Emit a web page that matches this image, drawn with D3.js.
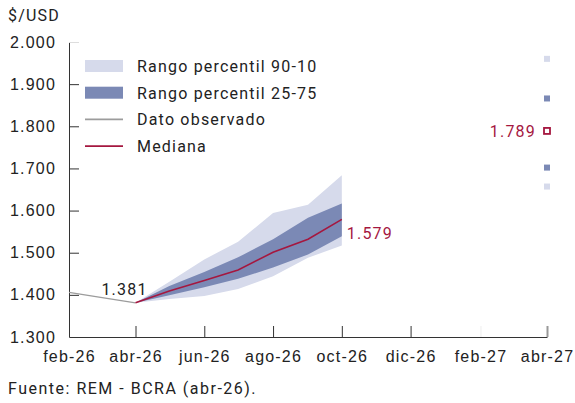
<!DOCTYPE html>
<html>
<head>
<meta charset="utf-8">
<script src="https://cdn.jsdelivr.net/npm/d3@7"></script>
<style>
  body { margin: 0; background: #fff; }
  svg { font-family: Roboto, sans-serif; letter-spacing: 1.2px; }
</style>
</head>
<body>
<svg width="575" height="403"></svg>
<script>
// observed rate
const obsMonths = ['2026-02', '2026-03', '2026-04'];
const obsValues = [1406, 1394, 1381];

// REM expectations, monthly
const remMonths = ['2026-04', '2026-05', '2026-06', '2026-07', '2026-08', '2026-09', '2026-10'];
const median = [1381, 1409, 1434, 1459, 1501, 1532, 1579];
const p25 = [1381, 1399, 1418, 1438, 1465, 1496, 1539];
const p75 = [1381, 1421, 1454, 1489, 1532, 1583, 1617];
const p10 = [1381, 1390, 1397, 1414, 1444, 1488, 1517];
const p90 = [1381, 1431, 1484, 1526, 1594, 1614, 1684];

// 12 months ahead (abr-27)
const aheadMonth = '2027-04';
const ahead = { p10: 1657, p25: 1702, median: 1789, p75: 1866, p90: 1960 };

const xTickMonths = ['2026-02', '2026-04', '2026-06', '2026-08', '2026-10', '2026-12', '2027-02', '2027-04'];
const xTickLabels = ['feb-26', 'abr-26', 'jun-26', 'ago-26', 'oct-26', 'dic-26', 'feb-27', 'abr-27'];
const yTicks = [1300, 1400, 1500, 1600, 1700, 1800, 1900, 2000];

const legendItems = [
  { label: 'Rango percentil 90-10', type: 'box', color: '#d6daeb' },
  { label: 'Rango percentil 25-75', type: 'box', color: '#7b89b5' },
  { label: 'Dato observado', type: 'line', color: '#9c9c9c' },
  { label: 'Mediana', type: 'line', color: '#a5173f' }
];

const parse = d3.timeParse('%Y-%m');
const fmtRate = v => (v / 1000).toFixed(3);

const svg = d3.select('svg');
const x = d3.scaleTime().domain([parse('2026-02'), parse('2027-04')]).range([69, 547]);
const y = d3.scaleLinear().domain([1300, 2000]).range([337, 42]);

const rem = remMonths.map((m, i) => ({
  date: parse(m), med: median[i], lo25: p25[i], hi75: p75[i], lo10: p10[i], hi90: p90[i]
}));
const obs = obsMonths.map((m, i) => ({ date: parse(m), v: obsValues[i] }));

// bands
svg.append('path')
    .datum(rem)
    .attr('fill', '#d6daeb')
    .attr('d', d3.area().x(d => x(d.date)).y0(d => y(d.lo10)).y1(d => y(d.hi90)));

svg.append('path')
    .datum(rem)
    .attr('fill', '#7b89b5')
    .attr('d', d3.area().x(d => x(d.date)).y0(d => y(d.lo25)).y1(d => y(d.hi75)));

// axes
const yAxis = svg.append('g')
    .attr('transform', `translate(${x.range()[0]},0)`)
    .call(d3.axisLeft(y).tickValues(yTicks).tickFormat(fmtRate).tickSizeInner(-10).tickSizeOuter(0).tickPadding(13));
yAxis.select('.domain').attr('stroke', '#333');
yAxis.selectAll('.tick line').attr('stroke', '#333');
yAxis.selectAll('.tick text').attr('font-size', 16).attr('fill', '#222');
yAxis.selectAll('.tick').filter(d => d === 1300).select('line').remove();
yAxis.selectAll('.tick').filter(d => d === 2000).select('line').attr('stroke', '#ddd');

const xAxis = svg.append('g')
    .attr('transform', `translate(0,${y.range()[0]})`)
    .call(d3.axisBottom(x).tickValues(xTickMonths.map(parse))
      .tickFormat((d, i) => xTickLabels[i]).tickSizeInner(-11).tickSizeOuter(0).tickPadding(14));
xAxis.select('.domain').attr('stroke', '#333');
xAxis.selectAll('.tick line').attr('stroke', '#333');
xAxis.selectAll('.tick text').attr('font-size', 16).attr('fill', '#222');
xAxis.selectAll('.tick').filter((d, i) => i === 0).select('line').remove();
xAxis.selectAll('.tick').filter((d, i) => i === 6).select('line').attr('stroke', '#eee');
xAxis.selectAll('.tick').filter((d, i) => i === 7).select('line').attr('stroke', '#999').attr('stroke-width', 2);

// observed line
svg.append('path')
    .datum(obs)
    .attr('fill', 'none')
    .attr('stroke', '#9c9c9c')
    .attr('stroke-width', 1.3)
    .attr('d', d3.line().x(d => x(d.date)).y(d => y(d.v)));

// median line
svg.append('path')
    .datum(rem)
    .attr('fill', 'none')
    .attr('stroke', '#a5173f')
    .attr('stroke-width', 1.6)
    .attr('d', d3.line().x(d => x(d.date)).y(d => y(d.med)));

// 12 months ahead markers
const ax = x(parse(aheadMonth));
const sq = 6;
[['p90', '#d6daeb'], ['p75', '#7b89b5'], ['p25', '#7b89b5'], ['p10', '#d6daeb']].forEach(([k, c]) => {
  svg.append('rect')
      .attr('x', ax - sq / 2).attr('y', y(ahead[k]) - sq / 2)
      .attr('width', sq).attr('height', sq)
      .attr('fill', c);
});
svg.append('rect')
    .attr('x', ax - 3).attr('y', y(ahead.median) - 3)
    .attr('width', 6).attr('height', 6)
    .attr('fill', '#fff').attr('stroke', '#a5173f').attr('stroke-width', 1.8);

// value labels
svg.append('text')
    .attr('x', x(parse(obsMonths[obsMonths.length - 1])) - 11)
    .attr('y', y(obsValues[obsValues.length - 1]) - 8)
    .attr('text-anchor', 'middle').attr('font-size', 16).attr('fill', '#222')
    .text(fmtRate(obsValues[obsValues.length - 1]));

svg.append('text')
    .attr('x', x(rem[rem.length - 1].date) + 5)
    .attr('y', y(median[median.length - 1]) + 20)
    .attr('font-size', 16).attr('fill', '#a5173f')
    .text(fmtRate(median[median.length - 1]));

svg.append('text')
    .attr('x', ax - 11)
    .attr('y', y(ahead.median) + 6)
    .attr('text-anchor', 'end').attr('font-size', 16).attr('fill', '#a5173f')
    .text(fmtRate(ahead.median));

// legend
const legend = svg.append('g').attr('transform', 'translate(85,66)');
legendItems.forEach((d, i) => {
  const g = legend.append('g').attr('transform', `translate(0,${i * 26.7})`);
  if (d.type === 'box') {
    g.append('rect').attr('x', 0).attr('y', -6).attr('width', 38).attr('height', 12).attr('fill', d.color);
  } else {
    g.append('line').attr('x1', 0).attr('x2', 38).attr('y1', 0).attr('y2', 0)
        .attr('stroke', d.color).attr('stroke-width', 1.6);
  }
  g.append('text').attr('x', 52).attr('y', 6).attr('font-size', 16).attr('fill', '#222').text(d.label);
});

// titles
svg.append('text').attr('x', 8).attr('y', 21).attr('font-size', 16).attr('fill', '#222').text('$/USD');
svg.append('text').attr('x', 8).attr('y', 394).attr('font-size', 16).attr('letter-spacing', '1.5px').attr('fill', '#222')
    .text('Fuente: REM - BCRA (abr-26).');
</script>
</body>
</html>
